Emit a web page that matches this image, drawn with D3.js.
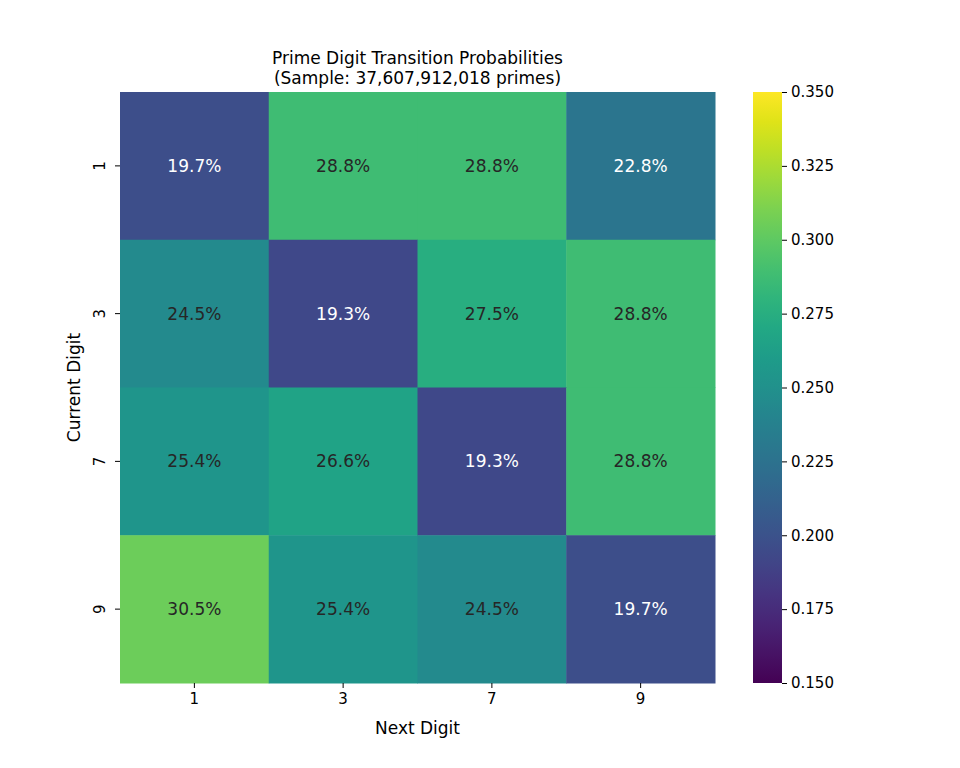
<!DOCTYPE html>
<html><head><meta charset="utf-8">
<script src="https://cdn.jsdelivr.net/npm/d3@7"></script>
<style>body{margin:0;background:#fff}text{font-family:"DejaVu Sans",sans-serif;fill:#000}</style>
</head><body><svg id="c" width="960" height="768"></svg>
<script>
var digits = ["1", "3", "7", "9"];
var probs = [
  [0.197, 0.288, 0.288, 0.228],
  [0.245, 0.193, 0.275, 0.288],
  [0.254, 0.266, 0.193, 0.288],
  [0.305, 0.254, 0.245, 0.197]
];
var cbTicks = [0.150, 0.175, 0.200, 0.225, 0.250, 0.275, 0.300, 0.325, 0.350];

(function() {
var svg = d3.select("#c");
var pL = 120, pR = 715, pT = 92, pB = 683;
var x = d3.scaleBand().domain(digits).range([pL, pR]);
var y = d3.scaleBand().domain(digits).range([pT, pB]);
var color = d3.scaleSequential(d3.interpolateViridis).domain([0.15, 0.35]);

var cells = [];
probs.forEach(function(row, i) {
  row.forEach(function(v, j) { cells.push({r: digits[i], c: digits[j], v: v}); });
});

svg.selectAll("rect.cell").data(cells).enter().append("rect")
  .attr("x", function(d) { return x(d.c); })
  .attr("y", function(d) { return y(d.r); })
  .attr("width", x.bandwidth() + 0.5)
  .attr("height", y.bandwidth() + 0.5)
  .style("fill", function(d) { return color(d.v); });

svg.selectAll("text.val").data(cells).enter().append("text")
  .attr("x", function(d) { return x(d.c) + x.bandwidth() / 2; })
  .attr("y", function(d) { return y(d.r) + y.bandwidth() / 2; })
  .attr("dy", "0.35em")
  .attr("text-anchor", "middle")
  .style("font-size", "17px")
  .style("fill", function(d) {
    var c = d3.rgb(color(d.v));
    var lum = (0.2126 * c.r + 0.7152 * c.g + 0.0722 * c.b) / 255;
    return lum > 0.408 ? "#262626" : "#fff";
  })
  .text(function(d) { return (d.v * 100).toFixed(1) + "%"; });

var xa = svg.append("g").attr("transform", "translate(0," + pB + ")")
  .call(d3.axisBottom(x).tickSize(5).tickPadding(5));
xa.select(".domain").remove();
xa.selectAll("text").style("font-size", "15px");

var ya = svg.append("g").attr("transform", "translate(" + pL + ",0)")
  .call(d3.axisLeft(y).tickSize(5).tickPadding(4));
ya.select(".domain").remove();
ya.selectAll("text").style("font-size", "15px")
  .attr("text-anchor", "middle")
  .attr("x", -20).attr("y", 0).attr("dy", "0.35em")
  .attr("transform", "rotate(-90,-20,0)");

svg.append("text").attr("x", (pL + pR) / 2).attr("y", 734)
  .attr("text-anchor", "middle").style("font-size", "17px").text("Next Digit");
svg.append("text").attr("transform", "translate(80," + (pT + pB) / 2 + ") rotate(-90)")
  .attr("text-anchor", "middle").style("font-size", "17px").text("Current Digit");
svg.append("text").attr("x", (pL + pR) / 2).attr("y", 64)
  .attr("text-anchor", "middle").style("font-size", "17px").text("Prime Digit Transition Probabilities");
svg.append("text").attr("x", (pL + pR) / 2).attr("y", 84)
  .attr("text-anchor", "middle").style("font-size", "17px").text("(Sample: 37,607,912,018 primes)");

// colorbar
var cbx = 753, cbw = 29;
var cy = d3.scaleLinear().domain([0.15, 0.35]).range([pB, pT]);
var grad = svg.append("defs").append("linearGradient").attr("id", "g")
  .attr("x1", 0).attr("y1", 1).attr("x2", 0).attr("y2", 0);
d3.range(0, 1.001, 0.05).forEach(function(t) {
  grad.append("stop").attr("offset", t).attr("stop-color", d3.interpolateViridis(t));
});
svg.append("rect").attr("x", cbx).attr("y", pT).attr("width", cbw).attr("height", pB - pT)
  .style("fill", "url(#g)");
var ca = svg.append("g").attr("transform", "translate(" + (cbx + cbw) + ",0)")
  .call(d3.axisRight(cy).tickValues(cbTicks).tickFormat(d3.format(".3f")).tickSize(5).tickPadding(4));
ca.select(".domain").remove();
ca.selectAll("text").style("font-size", "15px");
})();
</script></body></html>
